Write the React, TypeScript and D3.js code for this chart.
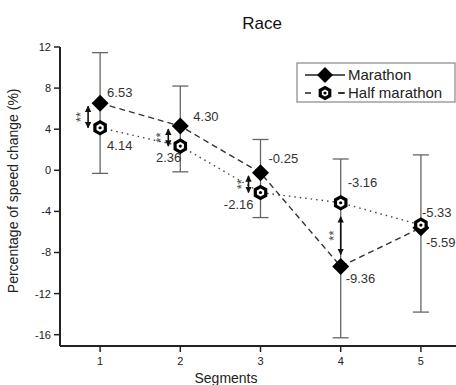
import React from 'react';
import * as d3 from 'd3';

const segments = [1, 2, 3, 4, 5];
const marathon = [6.53, 4.3, -0.25, -9.36, -5.59];
const halfMarathon = [4.14, 2.36, -2.16, -3.16, -5.33];
const errTop = [11.45, 8.2, 3.0, 1.1, 1.5];
const errBottom = [-0.3, -0.15, -4.6, -16.3, -13.8];
const yTicks = [12, 8, 4, 0, -4, -8, -12, -16];
const sigSegments = [1, 2, 3, 4];

const FONT = '"Liberation Sans", Arial, sans-serif';
const W = 456;
const H = 385;

// label offsets per point [dx, dy, anchor]
const mLabelPos: [number, number, string][] = [
  [7, -6, 'start'],
  [13, -5, 'start'],
  [8, -10, 'start'],
  [5, 17, 'start'],
  [5, 19, 'start'],
];
const hLabelPos: [number, number, string][] = [
  [7, 22, 'start'],
  [1, 16, 'end'],
  [-7, 17, 'end'],
  [7, -16, 'start'],
  [1, -8, 'start'],
];

const Diamond = ({ x, y, r }: { x: number; y: number; r: number }) => (
  <path d={`M${x},${y - r}L${x + r},${y}L${x},${y + r}L${x - r},${y}Z`} fill="#000" />
);

const Hexagon = ({ x, y, r }: { x: number; y: number; r: number }) => {
  const pts = d3.range(6).map((i) => {
    const a = (Math.PI / 3) * i + Math.PI / 6;
    return [x + r * Math.cos(a), y + r * Math.sin(a)];
  });
  return (
    <g>
      <path d={'M' + pts.map((p) => p.join(',')).join('L') + 'Z'} fill="#fff" stroke="#000" strokeWidth={3.2} />
      <circle cx={x} cy={y} r={1.6} fill="#000" />
    </g>
  );
};

export default function App() {
  const x = d3.scaleLinear().domain([0.5, 5.45]).range([60, 457]);
  const y = d3.scaleLinear().domain([-17.1, 12]).range([346, 47]);

  const line = d3
    .line<number>()
    .x((_, i) => x(segments[i]))
    .y((d) => y(d));

  return (
    <svg width={W} height={H} style={{ position: 'absolute', left: 0, top: 0, fontFamily: FONT }}>
      <defs>
        <marker id="ah" viewBox="0 0 10 10" refX="9" refY="5" markerWidth="4" markerHeight="5" orient="auto-start-reverse">
          <path d="M0,0L10,5L0,10Z" fill="#111" />
        </marker>
      </defs>
      <rect width={W} height={H} fill="#fff" />
      <text x={262} y={29} textAnchor="middle" fontSize={17} fill="#111">Race</text>

      {/* axes */}
      <line x1={60} x2={60} y1={y(12)} y2={346} stroke="#222" strokeWidth={2} />
      <line x1={60} x2={457} y1={346} y2={346} stroke="#222" strokeWidth={2} />
      {yTicks.map((t) => (
        <g key={t}>
          <line x1={54} x2={60} y1={y(t)} y2={y(t)} stroke="#222" strokeWidth={1.5} />
          <text x={51} y={y(t) + 4} textAnchor="end" fontSize={11} fill="#222">{t}</text>
        </g>
      ))}
      {segments.map((s) => (
        <g key={s}>
          <line x1={x(s)} x2={x(s)} y1={346} y2={352} stroke="#222" strokeWidth={1.5} />
          <text x={x(s)} y={365} textAnchor="middle" fontSize={11} fill="#222">{s}</text>
        </g>
      ))}
      <text x={226} y={383} textAnchor="middle" fontSize={14} fill="#222">Segments</text>
      <text transform={`translate(18,${y(-2)}) rotate(-90)`} textAnchor="middle" fontSize={14} fill="#222">
        Percentage of speed change (%)
      </text>

      {/* error bars */}
      {segments.map((s, i) => (
        <g key={'e' + s} stroke="#666" strokeWidth={1.3}>
          <line x1={x(s)} x2={x(s)} y1={y(errTop[i])} y2={y(errBottom[i])} />
          <line x1={x(s) - 8} x2={x(s) + 8} y1={y(errTop[i])} y2={y(errTop[i])} />
          <line x1={x(s) - 8} x2={x(s) + 8} y1={y(errBottom[i])} y2={y(errBottom[i])} />
        </g>
      ))}

      {/* lines */}
      <path d={line(marathon) || ''} fill="none" stroke="#333" strokeWidth={1.4} strokeDasharray="6,4" />
      <path d={line(halfMarathon) || ''} fill="none" stroke="#444" strokeWidth={1.4} strokeDasharray="1.5,4" />

      {/* significance arrows */}
      {sigSegments.map((s) => {
        const i = segments.indexOf(s);
        const top = Math.max(marathon[i], halfMarathon[i]);
        const bot = Math.min(marathon[i], halfMarathon[i]);
        const between = s === 4;
        const ax = between ? x(s) : x(s) - 12;
        const y1 = y(top) + (between ? 14 : 3);
        const y2 = y(bot) - (between ? 12 : 0);
        return (
          <g key={'s' + s}>
            <line x1={ax} x2={ax} y1={y1} y2={y2} stroke="#111" strokeWidth={1.6} markerStart="url(#ah)" markerEnd="url(#ah)" />
            <text transform={`translate(${ax - 3},${(y1 + y2) / 2}) rotate(-90)`} textAnchor="middle" fontSize={13} fill="#444">**</text>
          </g>
        );
      })}

      {/* markers */}
      {segments.map((s, i) => (
        <g key={'m' + s}>
          <Diamond x={x(s)} y={y(marathon[i])} r={8.5} />
        </g>
      ))}
      {segments.map((s, i) => (
        <g key={'h' + s}>
          <Hexagon x={x(s)} y={y(halfMarathon[i])} r={6} />
        </g>
      ))}

      {/* value labels */}
      {segments.map((s, i) => (
        <text key={'ml' + s} x={x(s) + mLabelPos[i][0]} y={y(marathon[i]) + mLabelPos[i][1]} textAnchor={mLabelPos[i][2] as any} fontSize={13} fill="#333">
          {marathon[i].toFixed(2)}
        </text>
      ))}
      {segments.map((s, i) => (
        <text key={'hl' + s} x={x(s) + hLabelPos[i][0]} y={y(halfMarathon[i]) + hLabelPos[i][1]} textAnchor={hLabelPos[i][2] as any} fontSize={13} fill="#333">
          {halfMarathon[i].toFixed(2)}
        </text>
      ))}

      {/* legend */}
      <rect x={297} y={63} width={158} height={39} fill="#fff" stroke="#888" strokeWidth={1.2} />
      <line x1={305} x2={345} y1={75} y2={75} stroke="#222" strokeWidth={1.4} />
      <Diamond x={325} y={75} r={8} />
      <text x={348} y={80} fontSize={15} fill="#222">Marathon</text>
      <line x1={305} x2={345} y1={93} y2={93} stroke="#222" strokeWidth={1.4} strokeDasharray="6,27" />
      <line x1={339} x2={345} y1={93} y2={93} stroke="#222" strokeWidth={1.4} />
      <Hexagon x={325} y={93} r={5.5} />
      <text x={348} y={98} fontSize={15} fill="#222">Half marathon</text>
    </svg>
  );
}
